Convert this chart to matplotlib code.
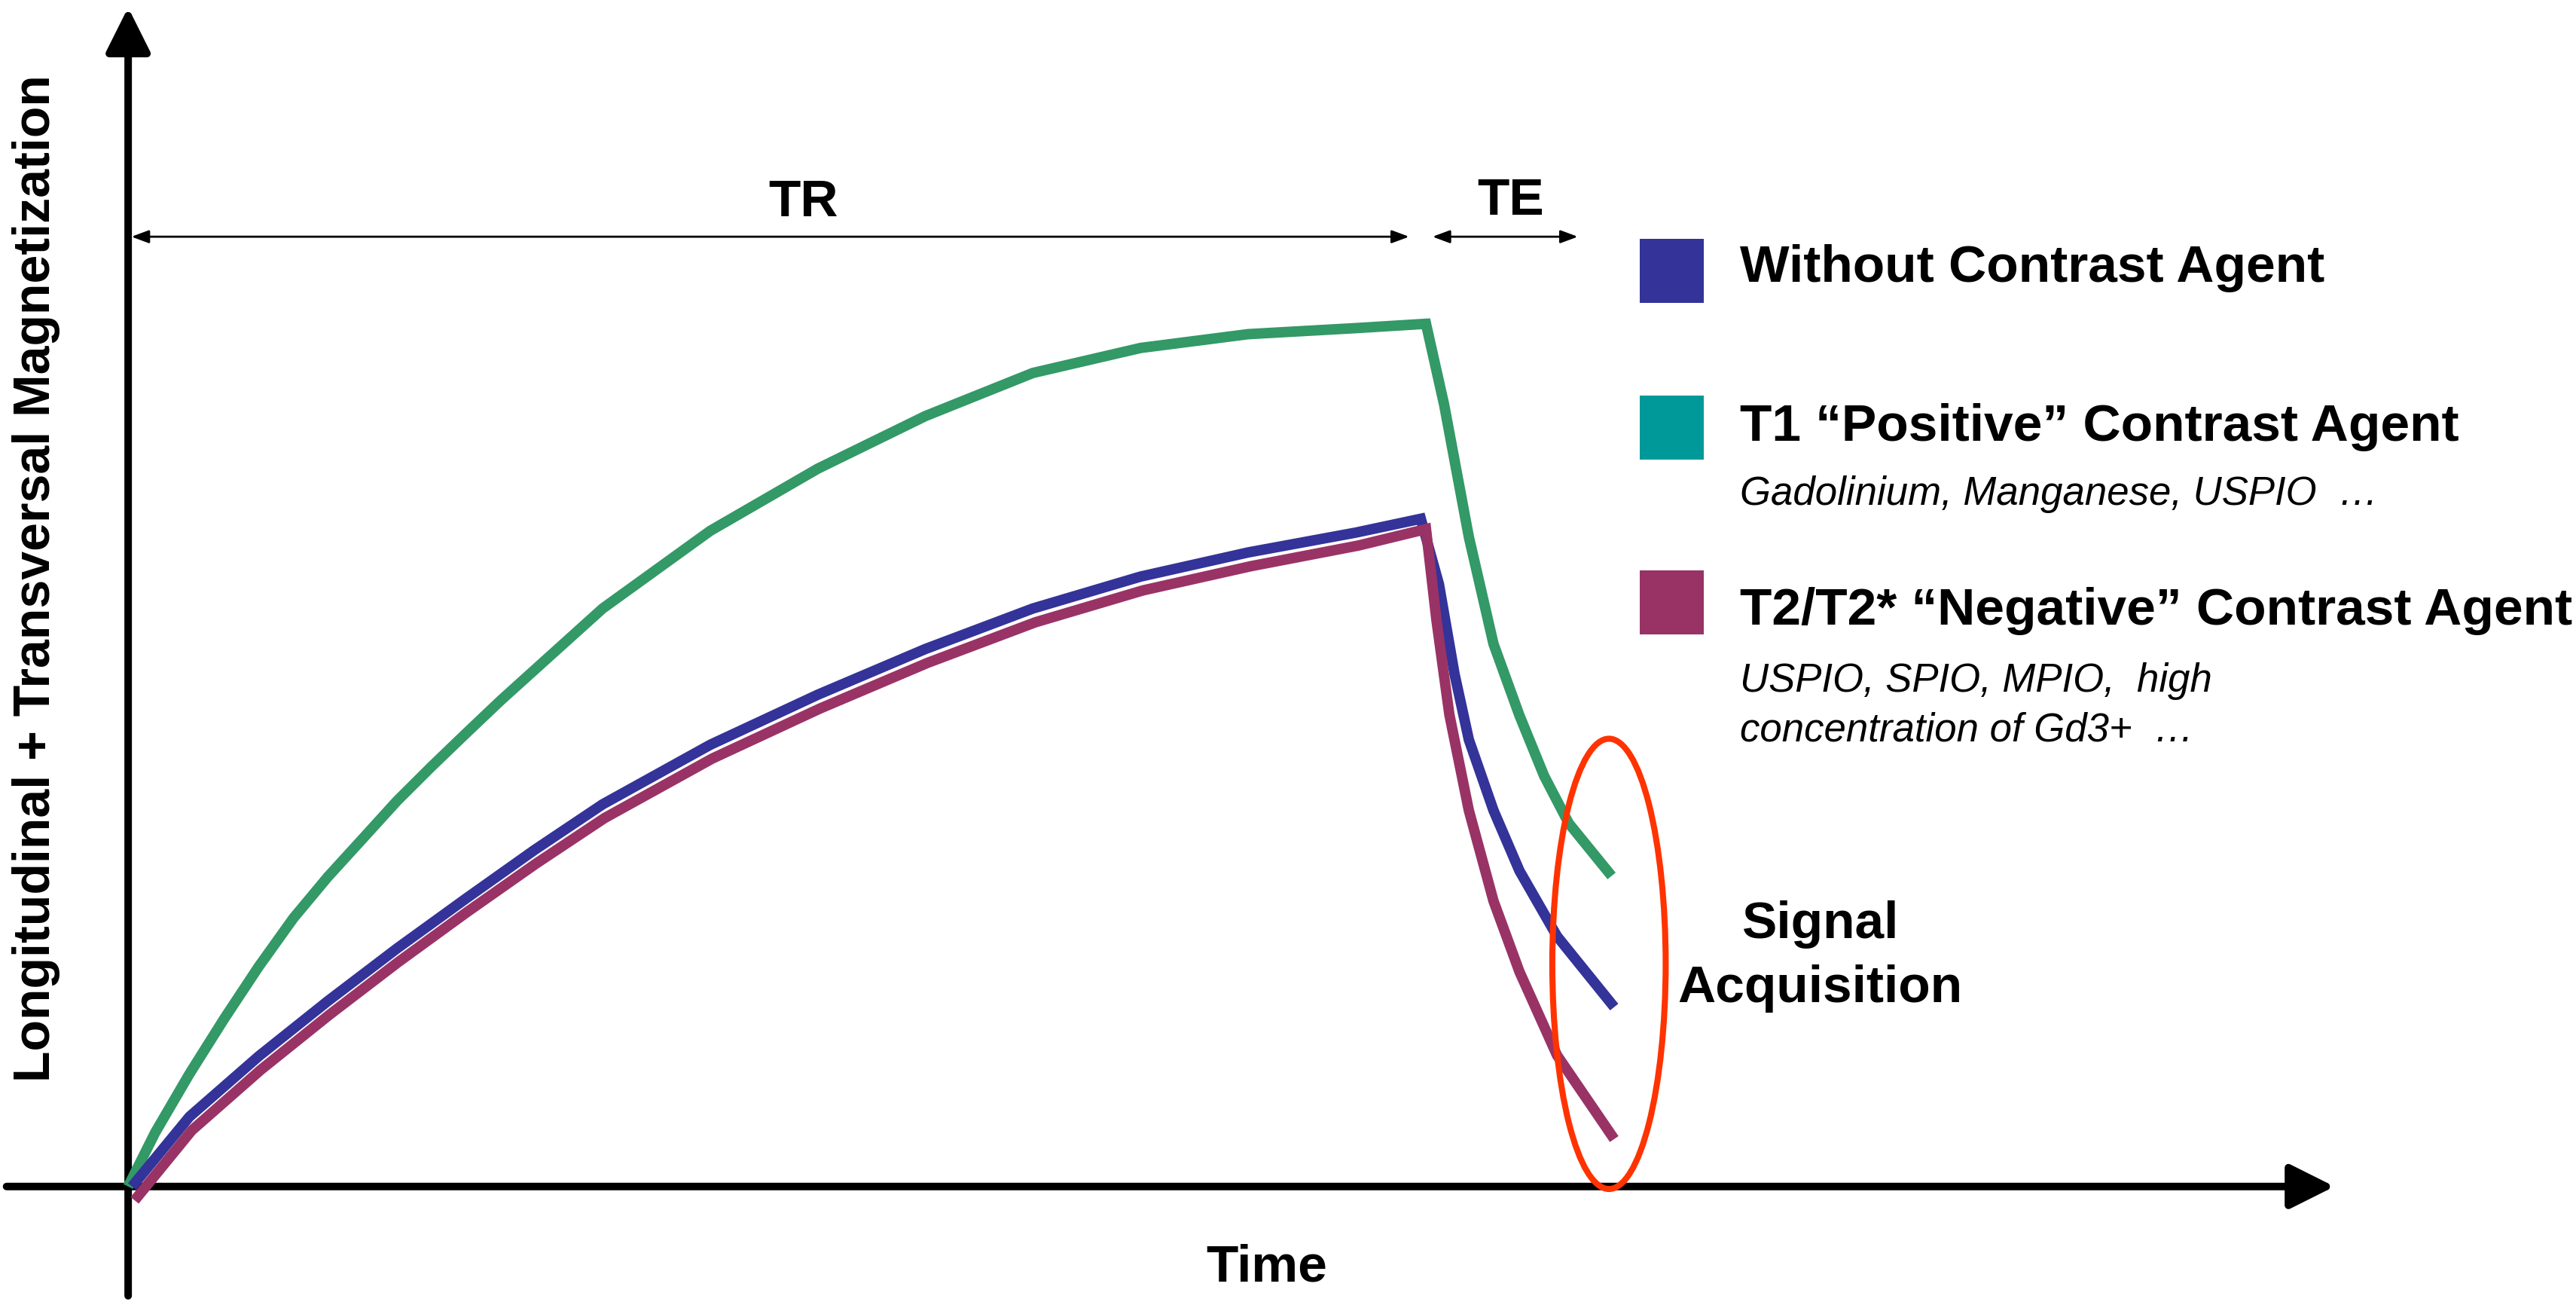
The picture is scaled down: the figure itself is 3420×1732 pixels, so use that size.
import matplotlib
matplotlib.use("Agg")
import matplotlib.pyplot as plt
from matplotlib.patches import FancyArrowPatch, Ellipse, Rectangle, ArrowStyle

# ---------------- data ----------------
series_names = ["Without Contrast Agent",
                "T1 \u201cPositive\u201d Contrast Agent",
                "T2/T2* \u201cNegative\u201d Contrast Agent"]
sub_lines = [[],
             ["Gadolinium, Manganese, USPIO  \u2026"],
             ["USPIO, SPIO, MPIO,  high", "concentration of Gd3+  \u2026"]]
line_colors = ["#333399", "#339966", "#993366"]
legend_colors = ["#333399", "#009999", "#993366"]

# time axis (TR = 100 units)
TR = 100.0
TE = 11.7
t_acq = 114.1

t_green = [0, 2.08, 4.73, 7.41, 10.06, 12.73, 15.39, 18.06, 20.72, 23.39, 26.05, 28.72,
           31.4, 36.56, 44.85, 53.13, 61.42, 69.71, 78.01, 86.3, 94.6, 100,
           101.4, 103.3, 105.2, 107.2, 109.1, 111.0, 114.3]
m_green = [0, 0.0625, 0.1307, 0.1947, 0.2549, 0.311, 0.359, 0.403, 0.447, 0.487, 0.5255, 0.5636,
           0.600, 0.670, 0.760, 0.832, 0.893, 0.943, 0.972, 0.988, 0.995, 1.0,
           0.906, 0.753, 0.629, 0.546, 0.476, 0.421, 0.360]

t_blue = [0.3, 4.73, 10.06, 15.39, 20.72, 26.05, 31.3, 36.56, 44.85, 53.13, 61.42, 69.71,
          78.01, 86.3, 94.6, 99.6,
          101.0, 102.2, 103.3, 105.2, 107.2, 110.1, 114.5]
m_blue = [0, 0.081, 0.151, 0.215, 0.276, 0.334, 0.390, 0.443, 0.512, 0.570, 0.623, 0.670,
          0.707, 0.735, 0.758, 0.774,
          0.698, 0.594, 0.518, 0.436, 0.366, 0.290, 0.208]

t_purple = [0.5, 4.9, 10.2, 15.5, 20.8, 26.1, 31.4, 36.7, 45.0, 53.3, 61.6, 69.9,
            78.2, 86.5, 94.8, 100.0,
            100.8, 101.8, 103.3, 105.2, 107.2, 110.1, 114.5]
m_purple = [-0.016, 0.065, 0.135, 0.199, 0.260, 0.318, 0.374, 0.427, 0.496, 0.554, 0.607, 0.654,
            0.691, 0.719, 0.743, 0.762,
            0.657, 0.547, 0.436, 0.331, 0.249, 0.152, 0.055]

# ---------------- figure ----------------
W, H = 1568.0, 794.6  # reference frame units
fig = plt.figure(figsize=(17.1, 8.665), dpi=200)
ax = fig.add_axes([0, 0, 1, 1])

def dx(xd):
    return (xd - 78.0) / 7.9

def dy(yd):
    return (722.5 - yd) / 525.0

ax.set_xlim(dx(0), dx(W))
ax.set_ylim(dy(H), dy(0))
ax.axis("off")

def fx(xd):
    return xd / W

def fy(yd):
    return 1 - yd / H

BOLD = dict(family="Liberation Sans", fontweight="bold")
ITAL = dict(family="Liberation Sans", fontstyle="italic")

# axes with arrows
ax_style = ArrowStyle("-|>", head_length=18, head_width=9)
ax.add_patch(FancyArrowPatch((0, dy(789)), (0, dy(5)), arrowstyle=ax_style,
                             mutation_scale=1, lw=3.6, color="black",
                             shrinkA=0, shrinkB=0, zorder=2))
ax.add_patch(FancyArrowPatch((dx(4), 0), (dx(1421), 0), arrowstyle=ax_style,
                             mutation_scale=1, lw=3.6, color="black",
                             shrinkA=0, shrinkB=0, zorder=2))

# TR / TE dimension arrows
dim_style = ArrowStyle("<|-|>", head_length=7, head_width=2.6)
y_dim = dy(144.5)
ax.add_patch(FancyArrowPatch((dx(80), y_dim), (TR * 0.987, y_dim), arrowstyle=dim_style,
                             mutation_scale=1, lw=1.0, color="black", shrinkA=0, shrinkB=0))
ax.add_patch(FancyArrowPatch((TR * 1.005, y_dim), (TR + TE, y_dim), arrowstyle=dim_style,
                             mutation_scale=1, lw=1.0, color="black", shrinkA=0, shrinkB=0))
fig.text(fx(489), fy(131.5), "TR", ha="center", va="baseline", fontsize=25, **BOLD)
fig.text(fx(919.6), fy(130.6), "TE", ha="center", va="baseline", fontsize=25, **BOLD)

# curves
lw = 5.0
kw = dict(lw=lw, solid_capstyle="butt", solid_joinstyle="miter")
ax.plot(t_green, m_green, color=line_colors[1], zorder=3, **kw)
ax.plot(t_blue, m_blue, color=line_colors[0], zorder=4, **kw)
ax.plot(t_purple, m_purple, color=line_colors[2], zorder=5, **kw)

# signal acquisition ellipse
ax.add_patch(Ellipse((t_acq, dy(587)), width=69 / 7.9, height=274 / 525.0,
                     fill=False, edgecolor="#ff3300", lw=2.9, zorder=6))
fig.text(fx(1108), fy(571), "Signal", ha="center", va="baseline", fontsize=25, **BOLD)
fig.text(fx(1108), fy(610), "Acquisition", ha="center", va="baseline", fontsize=25, **BOLD)

# axis labels
fig.text(fx(771), fy(779.5), "Time", ha="center", va="baseline", fontsize=25, **BOLD)
fig.text(fx(22), fy(352), "Longitudinal + Transversal Magnetization", rotation=90,
         ha="center", va="center", fontsize=24.5, **BOLD)

# legend
sq_tops = [146, 241, 347.5]
txt_base = [171.5, 268, 380]
sub_base = [None, 307, 421]
for i in range(3):
    top = sq_tops[i]
    fig.patches.append(Rectangle((fx(998), fy(top + 39)), 39 / W, 39 / H,
                                 transform=fig.transFigure, facecolor=legend_colors[i],
                                 edgecolor="none"))
    fig.text(fx(1059), fy(txt_base[i]), series_names[i], ha="left", va="baseline",
             fontsize=25, **BOLD)
    for j, ln in enumerate(sub_lines[i]):
        fig.text(fx(1059), fy(sub_base[i] + 30 * j), ln, ha="left", va="baseline",
                 fontsize=19, **ITAL)

fig.savefig("out.png", dpi=200, facecolor="white")
